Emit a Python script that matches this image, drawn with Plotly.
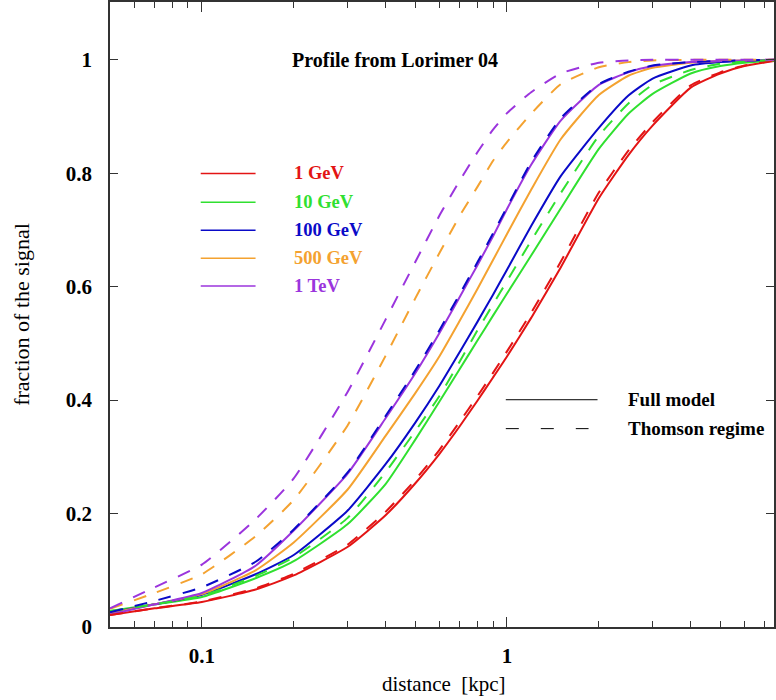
import numpy as np
import plotly.graph_objects as go

# distance grid [kpc]
x_kpc = [0.05, 0.07, 0.1, 0.15, 0.2, 0.3, 0.4, 0.5, 0.6, 0.7, 0.8, 0.9, 1.0,
         1.2, 1.5, 2.0, 2.5, 3.0, 4.0, 5.0, 6.0, 7.5]

energies = ["1 GeV", "10 GeV", "100 GeV", "500 GeV", "1 TeV"]
colors = ["#e31414", "#30e030", "#0a0ac8", "#f4a230", "#9b35dd"]

# Full model
full_1GeV = [0.021, 0.033, 0.044, 0.066, 0.091, 0.141, 0.197, 0.253, 0.305, 0.354, 0.399,
             0.44, 0.477, 0.545, 0.634, 0.756, 0.832, 0.884, 0.951, 0.976, 0.989, 0.998]
full_10GeV = [0.028, 0.04, 0.053, 0.086, 0.116, 0.181, 0.252, 0.33, 0.397, 0.455, 0.505,
              0.549, 0.588, 0.655, 0.738, 0.843, 0.905, 0.94, 0.976, 0.989, 0.995, 0.999]
full_100GeV = [0.025, 0.04, 0.057, 0.093, 0.127, 0.205, 0.287, 0.36, 0.425, 0.485, 0.538,
               0.586, 0.63, 0.707, 0.795, 0.88, 0.937, 0.967, 0.99, 0.996, 0.998, 1.0]
full_500GeV = [0.024, 0.04, 0.058, 0.1, 0.149, 0.242, 0.337, 0.412, 0.477, 0.54, 0.596,
               0.647, 0.693, 0.771, 0.86, 0.938, 0.972, 0.986, 0.995, 0.998, 0.999, 1.0]
full_1TeV = [0.022, 0.04, 0.06, 0.108, 0.17, 0.27, 0.368, 0.447, 0.518, 0.582, 0.638,
             0.689, 0.737, 0.815, 0.893, 0.956, 0.978, 0.989, 0.996, 0.998, 0.999, 1.0]

# Thomson regime
thom_1GeV = [0.021, 0.033, 0.045, 0.068, 0.094, 0.145, 0.203, 0.259, 0.312, 0.362, 0.407,
             0.448, 0.486, 0.554, 0.644, 0.766, 0.84, 0.89, 0.955, 0.978, 0.99, 0.999]
thom_10GeV = [0.028, 0.04, 0.055, 0.09, 0.123, 0.192, 0.273, 0.345, 0.407, 0.468, 0.523,
              0.569, 0.61, 0.681, 0.765, 0.866, 0.923, 0.956, 0.982, 0.993, 0.997, 1.0]
thom_100GeV = [0.026, 0.046, 0.07, 0.115, 0.172, 0.272, 0.372, 0.452, 0.523, 0.587, 0.643,
               0.694, 0.74, 0.82, 0.897, 0.957, 0.979, 0.99, 0.996, 0.998, 0.999, 1.0]
thom_500GeV = [0.032, 0.06, 0.093, 0.16, 0.224, 0.355, 0.478, 0.579, 0.659, 0.725, 0.776,
               0.822, 0.855, 0.905, 0.957, 0.987, 0.996, 0.999, 1.0, 1.0, 1.0, 1.0]
thom_1TeV = [0.033, 0.07, 0.11, 0.19, 0.262, 0.414, 0.542, 0.643, 0.725, 0.787, 0.837,
             0.877, 0.906, 0.943, 0.976, 0.995, 0.999, 1.0, 1.0, 1.0, 1.0, 1.0]

full_all = [full_1GeV, full_10GeV, full_100GeV, full_500GeV, full_1TeV]
thom_all = [thom_1GeV, thom_10GeV, thom_100GeV, thom_500GeV, thom_1TeV]

y_ticks = [0, 0.2, 0.4, 0.6, 0.8, 1]
y_ticktext = ["0", "0.2", "0.4", "0.6", "0.8", "1"]
x_major = [0.1, 1]
x_major_text = ["0.1", "1"]
x_minor = [0.06, 0.07, 0.08, 0.09, 0.2, 0.3, 0.4, 0.5, 0.6, 0.7, 0.8, 0.9,
           2, 3, 4, 5, 6, 7]

FONT = "Liberation Serif"
SMOOTH = 0.5

fig = go.Figure()
for ys, c in zip(full_all, colors):
    fig.add_trace(go.Scatter(x=x_kpc, y=ys, mode="lines",
                             line=dict(color=c, width=2, shape="spline", smoothing=SMOOTH),
                             showlegend=False))
for ys, c in zip(thom_all, colors):
    fig.add_trace(go.Scatter(x=x_kpc, y=ys, mode="lines",
                             line=dict(color=c, width=2, dash="13px,12px",
                                       shape="spline", smoothing=SMOOTH),
                             showlegend=False))

shapes = []
annotations = []
W, H = 776, 700
L, B = 110, 73
pw, ph = W - L, H - B


def px(xp):
    return (xp - L) / pw


def py(yp):
    return (H - B - yp) / ph


leg_y = [172, 201, 229, 257, 285]
for lab, c, yy in zip(energies, colors, leg_y):
    shapes.append(dict(type="line", xref="paper", yref="paper",
                       x0=px(201), x1=px(256), y0=py(yy), y1=py(yy),
                       line=dict(color=c, width=1.5)))
    annotations.append(dict(xref="paper", yref="paper", x=px(293), y=py(yy),
                            text="<b>%s</b>" % lab, showarrow=False,
                            xanchor="left", yanchor="middle",
                            font=dict(family=FONT, size=18.5, color=c)))

shapes.append(dict(type="line", xref="paper", yref="paper",
                   x0=px(507), x1=px(599), y0=py(399), y1=py(399),
                   line=dict(color="black", width=1)))
shapes.append(dict(type="line", xref="paper", yref="paper",
                   x0=px(507), x1=px(590), y0=py(428), y1=py(428),
                   line=dict(color="black", width=1, dash="13px,22px")))
annotations.append(dict(xref="paper", yref="paper", x=px(628), y=py(399),
                        text="<b>Full model</b>", showarrow=False,
                        xanchor="left", yanchor="middle",
                        font=dict(family=FONT, size=19, color="black")))
annotations.append(dict(xref="paper", yref="paper", x=px(628), y=py(428),
                        text="<b>Thomson regime</b>", showarrow=False,
                        xanchor="left", yanchor="middle",
                        font=dict(family=FONT, size=19, color="black")))
annotations.append(dict(xref="paper", yref="paper", x=px(396), y=py(58),
                        text="<b>Profile from Lorimer 04</b>", showarrow=False,
                        xanchor="center", yanchor="middle",
                        font=dict(family=FONT, size=20, color="black")))
# x-axis title
annotations.append(dict(xref="paper", yref="paper", x=px(445), y=py(684),
                        text="distance  [kpc]", showarrow=False,
                        xanchor="center", yanchor="middle",
                        font=dict(family=FONT, size=21, color="black")))

fig.update_layout(
    width=W, height=H,
    margin=dict(l=L, r=0, t=0, b=B),
    paper_bgcolor="white", plot_bgcolor="white",
    shapes=shapes, annotations=annotations,
    font=dict(family=FONT, color="black"),
)
fig.update_xaxes(
    type="log", range=[np.log10(0.05), np.log10(7.5)],
    tickvals=x_major, ticktext=["<b>%s</b>" % t for t in x_major_text],
    ticks="inside", ticklen=10, tickcolor="#333", tickwidth=1,
    minor=dict(tickvals=x_minor, ticks="inside", ticklen=6,
               tickcolor="#333", tickwidth=1, showgrid=False),
    showline=True, linecolor="#333", linewidth=1.5, mirror="allticks",
    showgrid=False, zeroline=False,
    tickfont=dict(family=FONT, size=21, color="black"),
    ticklabelstandoff=9,
)
fig.update_yaxes(
    range=[0, 1.102],
    tickvals=y_ticks, ticktext=["<b>%s</b>" % t for t in y_ticktext],
    ticks="inside", ticklen=8, tickcolor="#333", tickwidth=1,
    showline=True, linecolor="#333", linewidth=1.5, mirror="allticks",
    showgrid=False, zeroline=False,
    tickfont=dict(family=FONT, size=21, color="black"),
    ticklabelstandoff=12,
    title=dict(text="fraction of the signal", font=dict(family=FONT, size=22),
               standoff=30),
)

fig.write_html("out.html")
